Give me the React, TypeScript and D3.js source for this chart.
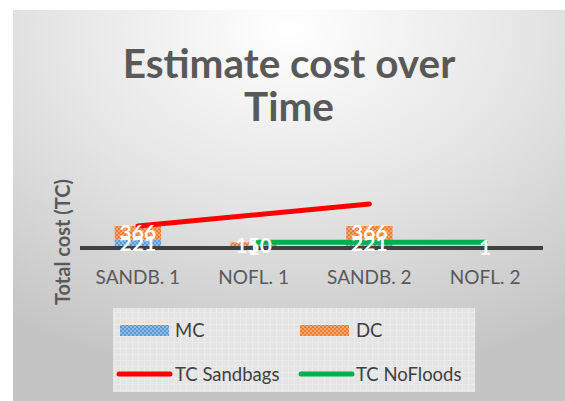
import React from "react";
import * as d3 from "d3";

const categories = ["SANDB. 1", "NOFL. 1", "SANDB. 2", "NOFL. 2"];
const mcValues: (number | null)[] = [221, 1, 221, 1];
const dcValues: (number | null)[] = [366, 150, 366, null];
const tcSandbags: (number | null)[] = [587, null, 1174, null];
const tcNoFloods: (number | null)[] = [null, 151, null, 151];

const W = 565;
const H = 401;
const font = "Lato, 'Open Sans', sans-serif";

function App() {
  const x = d3.scaleBand().domain(categories).range([80, 543]).paddingInner(0.6).paddingOuter(0.3);
  const y = d3.scaleLinear().domain([0, 1600]).range([248, 188]);
  const cx = (c: string) => (x(c) as number) + x.bandwidth() / 2;

  const lineGen = d3
    .line<{ c: string; v: number }>()
    .x((d) => cx(d.c))
    .y((d) => y(d.v));

  const pts = (vals: (number | null)[]) =>
    categories
      .map((c, i) => ({ c, v: vals[i] as number }))
      .filter((d) => d.v !== null);

  const bars: { c: string; y0: number; y1: number; v: number; fill: string }[] = [];
  categories.forEach((c, i) => {
    const mc = mcValues[i] || 0;
    if (mcValues[i] != null) bars.push({ c, y0: 0, y1: mc, v: mc, fill: "url(#pMC)" });
    if (dcValues[i] != null)
      bars.push({ c, y0: mc, y1: mc + (dcValues[i] as number), v: dcValues[i] as number, fill: "url(#pDC)" });
  });

  return (
    <svg width={W} height={H} style={{ position: "absolute", left: 0, top: 0 }} fontFamily={font}>
      <defs>
        <radialGradient id="bg" cx="0.5" cy="0.05" r="0.9" gradientUnits="objectBoundingBox">
          <stop offset="0" stopColor="#ffffff" />
          <stop offset="0.5" stopColor="#e4e4e4" />
          <stop offset="1" stopColor="#c4c4c4" />
        </radialGradient>
        <pattern id="pMC" width="4" height="4" patternUnits="userSpaceOnUse">
          <rect width="4" height="4" fill="#5b9bd5" />
          <rect width="2" height="2" fill="#8fbbe6" />
          <rect x="2" y="2" width="2" height="2" fill="#8fbbe6" />
        </pattern>
        <pattern id="pDC" width="4" height="4" patternUnits="userSpaceOnUse">
          <rect width="4" height="4" fill="#ed7d31" />
          <rect width="2" height="2" fill="#f3a36c" />
          <rect x="2" y="2" width="2" height="2" fill="#f3a36c" />
        </pattern>
        <pattern id="pLeg" width="6" height="6" patternUnits="userSpaceOnUse">
          <rect width="6" height="6" fill="#e4e4e4" />
          <path d="M0 0.5H6M0.5 0V6" stroke="#ececec" strokeWidth="1" />
        </pattern>
      </defs>
      <rect x={0} y={0} width={W} height={H} fill="#ffffff" />
      <rect x={13} y={10} width={W - 13} height={H - 10} fill="url(#bg)" />

      <text x={289} y={78} textAnchor="middle" fontSize={40.5} fontWeight="bold" fill="#595959">
        Estimate cost over
      </text>
      <text x={289} y={121} textAnchor="middle" fontSize={40.5} fontWeight="bold" fill="#595959">
        Time
      </text>

      <text
        transform="translate(70,242) rotate(-90)"
        textAnchor="middle"
        fontSize={20}
        fontWeight="bold"
        fill="#595959"
      >
        Total cost (TC)
      </text>

      {bars.map((b, i) => (
        <rect
          key={i}
          x={x(b.c)}
          width={x.bandwidth()}
          y={y(b.y1)}
          height={y(b.y0) - y(b.y1)}
          fill={b.fill}
        />
      ))}

      <line x1={80} x2={543} y1={y(0)} y2={y(0)} stroke="#404040" strokeWidth={4} />

      <path d={lineGen(pts(tcSandbags)) || ""} fill="none" stroke="#ff0000" strokeWidth={5} strokeLinecap="round" />
      <path d={lineGen(pts(tcNoFloods)) || ""} fill="none" stroke="#00b050" strokeWidth={5} strokeLinecap="round" />

      {bars.map((b, i) => (
        <text
          key={"l" + i}
          x={cx(b.c)}
          y={(y(b.y0) + y(b.y1)) / 2 + 7.5}
          textAnchor="middle"
          fontSize={21}
          fontWeight="bold"
          fill="#ffffff"
        >
          {b.v}
        </text>
      ))}

      {categories.map((c) => (
        <text key={c} x={cx(c)} y={284} textAnchor="middle" fontSize={19} fill="#595959">
          {c}
        </text>
      ))}

      <rect x={113} y={308} width={362} height={84} fill="url(#pLeg)" />
      <rect x={120} y={325} width={49} height={11} fill="url(#pMC)" />
      <text x={175} y={337} fontSize={18.5} fill="#404040">MC</text>
      <rect x={300} y={325} width={49} height={11} fill="url(#pDC)" />
      <text x={356} y={337} fontSize={18.5} fill="#404040">DC</text>
      <line x1={119} x2={170} y1={374} y2={374} stroke="#ff0000" strokeWidth={5} strokeLinecap="round" />
      <text x={175} y={381} fontSize={18.5} fill="#404040">TC Sandbags</text>
      <line x1={301} x2={352} y1={374} y2={374} stroke="#00b050" strokeWidth={5} strokeLinecap="round" />
      <text x={356} y={381} fontSize={18.5} fill="#404040">TC NoFloods</text>
    </svg>
  );
}

export default App;
